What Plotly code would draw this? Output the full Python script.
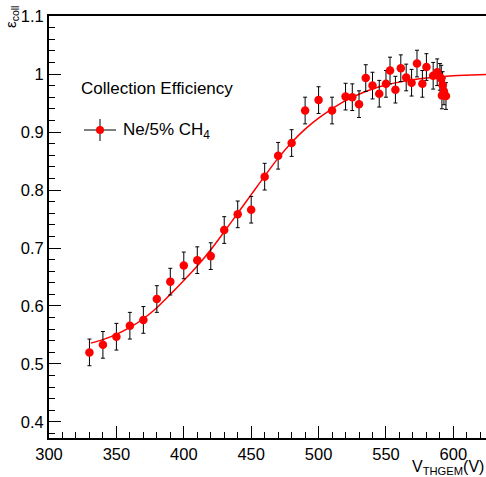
import plotly.graph_objects as go

# Measured data (V_THGEM in V, collection efficiency)
voltage = [330, 340, 350, 360, 370, 380, 390, 400, 410, 420, 430, 440, 450, 460, 470, 480,
           490, 500, 510, 520, 525, 530, 535, 540, 545, 550, 553, 557, 561, 565, 569, 573,
           577, 580, 585, 588, 590, 591, 592, 593, 591.5, 594.5]
efficiency = [0.520, 0.533, 0.547, 0.566, 0.576, 0.612, 0.642, 0.670, 0.679, 0.686, 0.731, 0.758,
              0.766, 0.823, 0.859, 0.881, 0.937, 0.955, 0.937, 0.961, 0.960, 0.948, 0.993, 0.980,
              0.966, 0.983, 1.006, 0.973, 1.010, 0.994, 0.985, 1.018, 0.983, 1.012, 0.997, 1.003,
              0.995, 0.992, 0.981, 0.970, 0.963, 0.962]
eff_err = [0.023] * len(voltage)

# Fit curve
fit_v = [331, 340, 350, 360, 370, 380, 390, 400, 410, 420, 430, 440, 450, 460, 470, 480,
         490, 500, 510, 520, 530, 540, 550, 560, 570, 580, 590, 600, 610, 625]
fit_eff = [0.536, 0.542, 0.551, 0.563, 0.578, 0.597, 0.620, 0.644, 0.669, 0.697, 0.728, 0.760,
           0.792, 0.824, 0.855, 0.882, 0.905, 0.924, 0.940, 0.954, 0.965, 0.974, 0.981, 0.986,
           0.990, 0.993, 0.995, 0.997, 0.998, 0.999]

x_ticks = [300, 350, 400, 450, 500, 550, 600]
y_ticks = [0.4, 0.5, 0.6, 0.7, 0.8, 0.9, 1.0, 1.1]
y_ticklabels = ["0.4", "0.5", "0.6", "0.7", "0.8", "0.9", "1", "1.1"]

FONT = "Liberation Sans, Arial, Helvetica, sans-serif"

fig = go.Figure()
fig.add_trace(go.Scatter(
    x=fit_v, y=fit_eff, mode="lines", line=dict(color="red", width=1.5, shape="spline"),
    showlegend=False, hoverinfo="skip", cliponaxis=True))
fig.add_trace(go.Scatter(
    x=voltage, y=efficiency, mode="markers",
    marker=dict(color="red", size=8.5, line=dict(width=0)),
    error_y=dict(type="data", array=eff_err, color="black", thickness=1, width=2),
    showlegend=False))

L, T, W, H = 49, 16, 437, 422


def px(xp):
    return (xp - L) / W


def py(yp):
    return (T + H - yp) / H


shapes = [
    dict(type="line", xref="paper", yref="paper", x0=px(84), x1=px(116), y0=py(130), y1=py(130),
         line=dict(color="black", width=1)),
    dict(type="line", xref="paper", yref="paper", x0=px(100), x1=px(100), y0=py(119), y1=py(141),
         line=dict(color="black", width=1)),
    dict(type="circle", xref="paper", yref="paper", x0=px(96), x1=px(104), y0=py(126), y1=py(134),
         fillcolor="red", line=dict(color="red", width=0)),
]

annotations = [
    dict(text="Collection Efficiency", xref="paper", yref="paper", x=px(79), y=py(89),
         xanchor="left", yanchor="middle", showarrow=False, font=dict(family=FONT, size=17, color="black")),
    dict(text="Ne/5% CH<sub>4</sub>", xref="paper", yref="paper", x=px(121), y=py(131),
         xanchor="left", yanchor="middle", showarrow=False, font=dict(family=FONT, size=17, color="black")),
    dict(text="V<sub>THGEM</sub>(V)", xref="paper", yref="paper", x=1.0, y=py(467),
         xanchor="right", yanchor="middle", showarrow=False, font=dict(family=FONT, size=16, color="black")),
    dict(text="ε<sub>coll</sub>", xref="paper", yref="paper", x=px(12), y=py(4),
         xanchor="center", yanchor="top", textangle=-90, showarrow=False,
         font=dict(family=FONT, size=15, color="black")),
]

fig.update_layout(
    width=486, height=477,
    autosize=False,
    margin=dict(l=L, r=0, t=T, b=477 - T - H, pad=0, autoexpand=False),
    paper_bgcolor="white", plot_bgcolor="white",
    font=dict(family=FONT, size=16, color="black"),
    shapes=shapes, annotations=annotations,
    xaxis=dict(range=[300, 624.2], tickvals=x_ticks, ticks="inside", ticklen=12, tickwidth=1,
               tickcolor="black", showline=True, linecolor="black", linewidth=2, mirror=True,
               showgrid=False, zeroline=False, tickfont=dict(family=FONT, size=16.5), automargin=False,
               minor=dict(ticks="inside", dtick=10, ticklen=6, tickwidth=1, tickcolor="black", showgrid=False)),
    yaxis=dict(range=[0.3724, 1.1], tickvals=y_ticks, ticktext=y_ticklabels, ticks="inside",
               ticklen=12, tickwidth=1, tickcolor="black", showline=True, linecolor="black",
               linewidth=2, showgrid=False, zeroline=False, tickfont=dict(family=FONT, size=16.5),
               automargin=False,
               minor=dict(ticks="inside", dtick=0.02, tick0=0.4, ticklen=6, tickwidth=1,
                          tickcolor="black", showgrid=False)),
)

fig.write_html("out.html", config={"displayModeBar": False},
               post_script="document.body.style.margin='0px';document.body.style.overflow='hidden';")
